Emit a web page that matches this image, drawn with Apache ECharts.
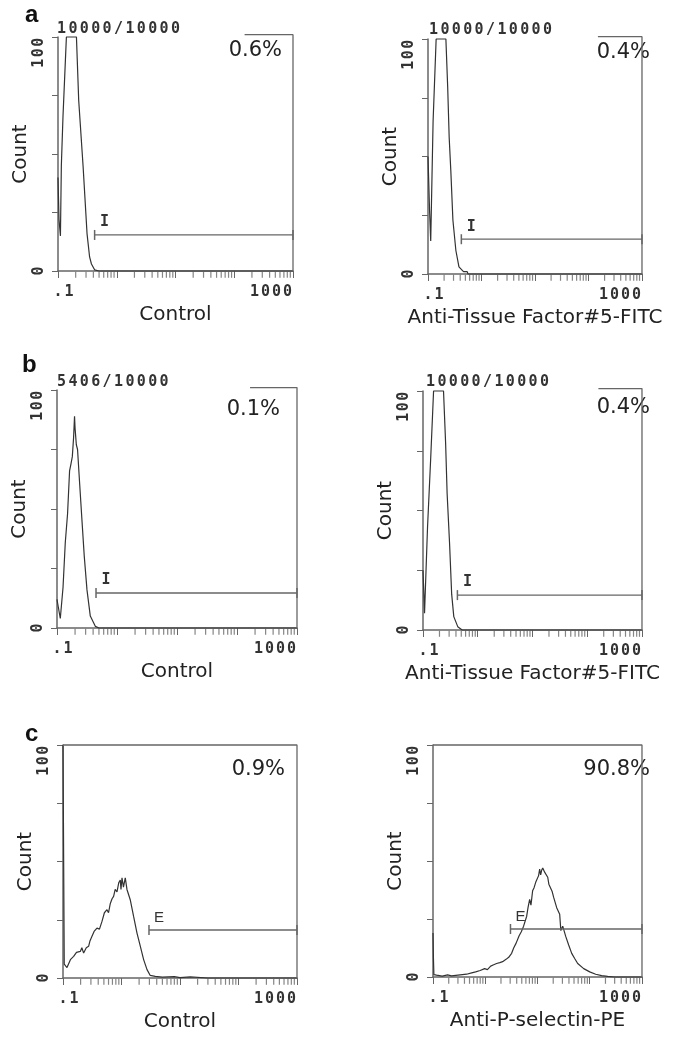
<!DOCTYPE html>
<html><head><meta charset="utf-8">
<script src="https://cdn.jsdelivr.net/npm/echarts@6/dist/echarts.min.js"></script>
<style>html,body{margin:0;padding:0;background:#fff}#c{width:688px;height:1050px}</style>
</head><body><div id="c"></div>
<script>
// ---------------- data ----------------
const panelLetters = ['a', 'b', 'c'];
const xTitles = ['Control', 'Anti-Tissue Factor#5-FITC', 'Control', 'Anti-Tissue Factor#5-FITC', 'Control', 'Anti-P-selectin-PE'];
const yTitle = 'Count';
const percentLabels = ['0.6%', '0.4%', '0.1%', '0.4%', '0.9%', '90.8%'];
const eventLabels = ['10000/10000', '10000/10000', '5406/10000', '10000/10000', '', ''];
const gateNames = ['I', 'I', 'I', 'I', 'E', 'E'];
const gateStart = [0.42, 0.42, 0.447, 0.425, 2.95, 3.04];
const gateLevel = [15.4, 14.8, 14.7, 14.6, 20.6, 20.7];
const regionStart = [150, 150, 165, 160, null, null];
const xTickLabels = ['.1', '1000'];
const yTickLabels = ['0', '100'];

const histA1 = [[0.1,40],[0.104,22],[0.11,15],[0.114,45],[0.1216,66],[0.1336,90],[0.139,100],[0.206,100],[0.225,73],[0.267,45],[0.312,16],[0.345,6],[0.371,3],[0.42,0.5],[0.5,0],[1000,0]];
const histA2 = [[0.1,50],[0.1066,28],[0.1124,14],[0.1245,65],[0.142,100],[0.216,100],[0.233,80],[0.249,58],[0.267,44],[0.292,23],[0.332,10],[0.379,3],[0.461,1],[0.5,0.6],[0.54,1],[0.56,0],[1000,0]];
const histB1 = [[0.1,12],[0.1023,10.5],[0.1135,4],[0.126,17],[0.1375,36],[0.15,48],[0.162,66],[0.171,69],[0.18,72],[0.189,80],[0.196,89],[0.2,84],[0.21,77],[0.22,75],[0.238,61],[0.261,45],[0.285,30],[0.316,16],[0.359,5],[0.435,0.7],[0.5,0],[1000,0]];
const histB2 = [[0.1,25],[0.1067,7],[0.121,43],[0.1377,71],[0.156,100],[0.237,100],[0.259,78],[0.276,57],[0.306,36],[0.334,15],[0.365,5.6],[0.431,1.4],[0.52,0],[1000,0]];
const histC1 = [[0.1,100],[0.1035,100],[0.105,6],[0.1095,6.4],[0.117,4.5],[0.1247,5],[0.135,8],[0.152,9.3],[0.17,11],[0.1977,11.4],[0.21,13],[0.2253,10.7],[0.25,13],[0.274,13.6],[0.29,16],[0.313,17.9],[0.34,20],[0.381,21.4],[0.42,21],[0.464,24.3],[0.51,28],[0.565,29.3],[0.6,28],[0.644,32],[0.69,34],[0.733,35],[0.78,38],[0.837,37],[0.9,41],[0.953,42],[0.98,38],[1.02,43],[1.08,39],[1.16,43],[1.24,38],[1.41,33.6],[1.61,26.4],[1.84,19.3],[2.1,13.6],[2.39,7.9],[2.73,3.6],[3.1,1.1],[3.78,0.7],[5,0.4],[8,0.6],[10,0.2],[15,0.5],[30,0],[1000,0]];
const histC2 = [[0.1,19],[0.102,8],[0.104,1],[0.117,0.8],[0.15,0.4],[0.19,0.9],[0.226,0.5],[0.3,0.8],[0.44,1.2],[0.55,1.8],[0.654,2.2],[0.8,2.8],[0.973,3.6],[1.1,3.2],[1.27,4.7],[1.45,5.3],[1.65,5.8],[1.9,6.2],[2.15,6.6],[2.5,7.6],[2.81,8.5],[3.2,10.2],[3.5,12.5],[3.9,14.6],[4.45,17.8],[4.9,19.5],[5.42,21.9],[6.21,26.2],[6.6,30],[7.08,33.5],[7.5,31],[8.07,37.2],[8.6,38.5],[9.24,40.8],[9.8,41.5],[10.5,43.7],[11.0,46.5],[11.5,44],[12.0,46],[12.6,47],[13.7,45.2],[14.5,44.5],[15.7,43],[16.5,40],[17.9,39.4],[19,37],[20.4,34.3],[21.5,35],[23.3,29.9],[26.6,27],[28,20],[30.4,21.9],[34.7,17.5],[39.5,13.8],[45.2,10.2],[51.5,8],[58.8,5.8],[76.6,3.6],[100,2.2],[130,1.2],[169,0.6],[221,0.3],[300,0],[1000,0]];
const histograms = [histA1, histA2, histB1, histB2, histC1, histC2];

// ---------------- layout ----------------
const grids = [
  {left: 58, top: 37, width: 235, height: 234},
  {left: 428, top: 39, width: 235, height: 235},
  {left: 57, top: 390, width: 240, height: 238},
  {left: 423, top: 391, width: 242, height: 239},
  {left: 63, top: 745, width: 234, height: 233},
  {left: 433, top: 745, width: 232, height: 232}
];
const percentPos = [[406, 40], [38, 42], [408, 399], [38, 397], [403, 759], [38, 759]];
const headerPos = [[57, 22], [429, 23], [57, 375], [426, 375]];
const letterPos = [[25, 3], [22, 353], [25, 722]];

const AX = '#666';
const cellAxis = {width: 11, align: 'center', fontFamily: 'DejaVu Sans Mono', fontSize: 15, fontWeight: 'bold', color: '#333'};
const cellY = Object.assign({}, cellAxis, {width: 10.5});
const cellG = {width: 11.4, align: 'center', fontFamily: 'DejaVu Sans Mono', fontSize: 15, fontWeight: 'bold', fill: '#333'};
function mono(s) { return s.split('').map(ch => '{c|' + ch + '}').join(''); }

// log-axis minor tick positions (2..9 within each decade)
const minorTicks = [];
for (let k = -1; k < 3; k++) for (let m = 2; m <= 9; m++) minorTicks.push([m * Math.pow(10, k), 0]);

const titleFont = {fontFamily: 'DejaVu Sans', fontSize: 20, color: '#222'};

const xAxes = [], yAxes = [], series = [], graphic = [];
grids.forEach((g, i) => {
  xAxes.push({
    type: 'log', logBase: 10, gridIndex: i, min: 0.1, max: 1000,
    axisLine: {lineStyle: {color: AX, width: 1.5}},
    axisTick: {show: true, length: 7, lineStyle: {color: AX}},
    splitLine: {show: false},
    axisLabel: {
      margin: 14,
      formatter: v => {
        if (Math.abs(v - 0.1) < 1e-9) return mono(' ' + xTickLabels[0]);
        if (Math.abs(v - 1000) < 1e-6) return mono(xTickLabels[1] + '    ');
        return '';
      },
      rich: {c: cellAxis}
    },
    name: xTitles[i], nameLocation: 'middle', nameGap: 34, nameTextStyle: titleFont
  });
  yAxes.push({
    type: 'value', gridIndex: i, min: 0, max: 100, interval: 25,
    axisLine: {show: true, lineStyle: {color: AX, width: 1.5}},
    axisTick: {show: true, length: 6, lineStyle: {color: AX}},
    splitLine: {show: false},
    axisLabel: {
      rotate: 90, margin: 11,
      formatter: v => v === 0 ? mono(yTickLabels[0]) : (v === 100 ? mono(yTickLabels[1] + '   ') : ''),
      rich: {c: cellY}
    },
    name: yTitle, nameLocation: 'middle', nameGap: 18, nameTextStyle: titleFont
  });
  // histogram
  series.push({
    type: 'line', xAxisIndex: i, yAxisIndex: i, data: histograms[i],
    symbol: 'none', clip: false, silent: true,
    lineStyle: {color: '#333', width: 1.2}
  });
  // gate marker
  series.push({
    type: 'line', xAxisIndex: i, yAxisIndex: i, clip: false, silent: true,
    symbol: 'rect', symbolSize: [1.5, 10], showSymbol: true, showAllSymbol: true,
    itemStyle: {color: AX}, lineStyle: {color: AX, width: 1.3},
    data: [
      {value: [gateStart[i], gateLevel[i]],
       label: {show: true, formatter: gateNames[i], position: 'top', distance: 0, offset: [10, 0],
               fontFamily: i < 4 ? 'DejaVu Sans Mono' : 'Liberation Sans', fontSize: 15, fontWeight: i < 4 ? 'bold' : 'normal', color: '#333'}},
      [1000, gateLevel[i]]
    ]
  });
  // region bracket / frame
  const frame = regionStart[i] != null
    ? [[regionStart[i], 101], [1000, 101], [1000, 0]]
    : [[0.1, 100], [1000, 100], [1000, 0]];
  series.push({
    type: 'line', xAxisIndex: i, yAxisIndex: i, data: frame, clip: false, silent: true,
    symbol: 'none', lineStyle: {color: AX, width: 1.3}
  });
  // minor ticks
  series.push({
    type: 'scatter', xAxisIndex: i, yAxisIndex: i, data: minorTicks, clip: false, silent: true,
    symbol: 'rect', symbolSize: [1.2, 6], symbolOffset: [0, 3.8], itemStyle: {color: AX}
  });
  // percent text
  graphic.push({type: 'text', right: percentPos[i][0], top: percentPos[i][1],
    style: {text: percentLabels[i], fontFamily: 'DejaVu Sans', fontSize: 21, fill: '#222'}});
  if (eventLabels[i]) {
    graphic.push({type: 'text', left: headerPos[i][0], top: headerPos[i][1],
      style: {text: mono(eventLabels[i]), rich: {c: cellG}}});
  }
});
panelLetters.forEach((l, r) => {
  graphic.push({type: 'text', left: letterPos[r][0], top: letterPos[r][1],
    style: {text: l, fontFamily: 'Liberation Sans', fontWeight: 'bold', fontSize: 24, fill: '#111'}});
});

const chart = echarts.init(document.getElementById('c'), null, {renderer: 'canvas'});
chart.setOption({
  animation: false,
  backgroundColor: '#fff',
  grid: grids,
  xAxis: xAxes,
  yAxis: yAxes,
  series: series,
  graphic: graphic
});
</script>
</body></html>
